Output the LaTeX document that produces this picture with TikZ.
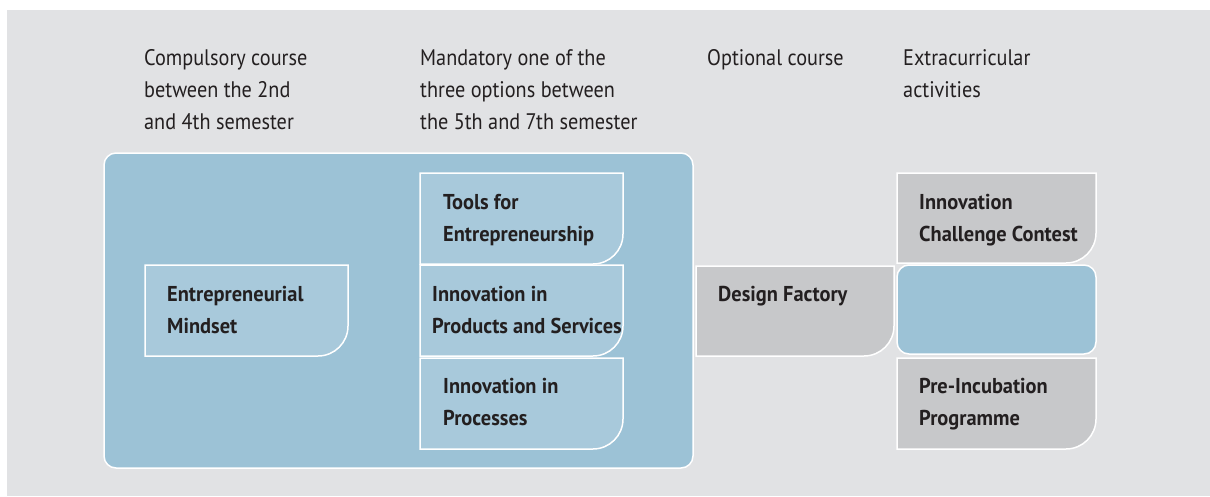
\documentclass[tikz,border=0pt]{standalone}
\usepackage{fontspec}
\setmainfont[FakeStretch=0.9,BoldFeatures={FakeStretch=0.95}]{PT Sans}
\definecolor{bggray}{HTML}{E1E2E4}
\definecolor{bigblue}{HTML}{9CC2D6}
\definecolor{tabblue}{HTML}{A8C9DB}
\definecolor{tabgray}{HTML}{C7C8CA}
\definecolor{ink}{HTML}{231F20}
\tikzset{
  head/.style={anchor=base west,inner sep=0pt,align=left,text=ink,
    font=\fontsize{22.5}{32}\selectfont},
  tabtext/.style={anchor=base west,inner sep=0pt,align=left,text=ink,
    font=\bfseries\fontsize{21.5}{32}\selectfont},
  bigbox/.style={fill=bigblue,draw=white,line width=1.5pt,rounded corners=12pt},
  bluetab/.style={fill=tabblue,draw=white,line width=1.5pt},
  graytab/.style={fill=tabgray,draw=white,line width=1.5pt},
}
\begin{document}
\begin{tikzpicture}[x=1pt,y=-1pt]
\useasboundingbox (0,0) rectangle (1210,496);
\fill[bggray] (7,10) rectangle (1210,496);
% column heads (placed at the baseline of their last line)
\node[head] (hcomp) at (144,129) {Compulsory course\\between the 2nd\\and 4th semester};
\node[head] (hmand) at (420,129) {Mandatory one of the\\three options between\\the 5th and 7th semester};
\node[head] (hopt) at (707,65) {Optional course};
\node[head] (hextra) at (903,97) {Extracurricular\\activities};
% compulsory + mandatory block
\draw[bigbox] (104,153) rectangle (693,468);
\draw[bluetab] (145,265) -- ++(203,0) -- ++(0,61) arc[start angle=0,end angle=90,radius=30] -- ++(-173,0) -- cycle;
\foreach \y in {173,265,358}
\draw[bluetab] (420,\y) -- ++(203,0) -- ++(0,61) arc[start angle=0,end angle=90,radius=30] -- ++(-173,0) -- cycle;
\node[tabtext] (mindset) at (167,333) {Entrepreneurial\\Mindset};
\node[tabtext] (tools) at (443,241) {Tools for\\Entrepreneurship};
\node[tabtext] (products) at (432,333) {Innovation in\\Products and Services};
\node[tabtext] (processes) at (443,425) {Innovation in\\Processes};
% optional
\draw[graytab] (696,266) -- ++(198,0) -- ++(0,60) arc[start angle=0,end angle=90,radius=30] -- ++(-168,0) -- cycle;
\node[tabtext] (design) at (718,301) {Design Factory};
% extracurricular
\draw[graytab] (897,173) -- ++(199,0) -- ++(0,60) arc[start angle=0,end angle=90,radius=30] -- ++(-169,0) -- cycle;
\draw[bigbox] (897,265) rectangle (1096,354);
\draw[graytab] (897,358) -- ++(199,0) -- ++(0,61) arc[start angle=0,end angle=90,radius=30] -- ++(-169,0) -- cycle;
\node[tabtext] (contest) at (919,241) {Innovation\\Challenge Contest};
\node[tabtext] (preinc) at (919,425) {Pre-Incubation\\Programme};
\end{tikzpicture}
\end{document}
